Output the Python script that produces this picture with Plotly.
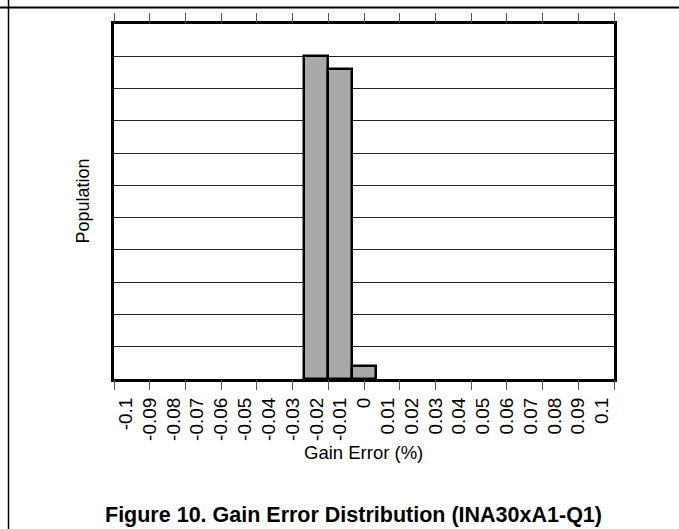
import plotly.graph_objects as go

# Histogram of gain error (bin centres in %, relative population)
bin_centres = [-0.02, -0.01, 0.0]
population = [10.0, 9.6, 0.4]
bin_width = 0.01

# Category labels along the x axis
label_values = [round(-0.1 + 0.01 * i, 2) for i in range(21)]
label_text = ["-0.1", "-0.09", "-0.08", "-0.07", "-0.06", "-0.05", "-0.04",
              "-0.03", "-0.02", "-0.01", "0", "0.01", "0.02", "0.03", "0.04",
              "0.05", "0.06", "0.07", "0.08", "0.09", "0.1"]

# Evenly spaced frame tick marks (independent of the labels)
frame_ticks = list(range(15))

W, H = 679, 529
L, R, T, B = 114, 65, 24, 150
PW, PH = W - L - R, H - T - B


def px_x(px):
    return (px - L) / PW


def px_y(py):
    return (H - B - py) / PH


FONT = "Liberation Sans, Arial, sans-serif"

fig = go.Figure()
fig.add_trace(go.Bar(
    x=bin_centres, y=population, width=bin_width,
    marker=dict(color="#a9a9a9", line=dict(color="black", width=2.5)),
    showlegend=False, hoverinfo="skip",
))
# invisible carrier so the frame-tick axis is drawn
fig.add_trace(go.Scatter(
    x=[frame_ticks[0], frame_ticks[-1]], y=[0, 0], xaxis="x2", yaxis="y",
    mode="markers", marker=dict(opacity=0), showlegend=False,
    hoverinfo="skip",
))

fig.update_layout(
    width=W, height=H,
    margin=dict(l=L, r=R, t=T, b=B, autoexpand=False),
    paper_bgcolor="white", plot_bgcolor="white",
    font=dict(family=FONT, color="black"),
    bargap=0,
    xaxis=dict(
        range=[-0.105, 0.105], tickmode="array",
        tickvals=label_values, ticktext=label_text,
        tickangle=-90, ticks="", ticklabelstandoff=8,
        tickfont=dict(size=19, family=FONT, color="black"),
        showline=True, mirror=True, linewidth=3, linecolor="black",
        showgrid=False, zeroline=False, fixedrange=True,
    ),
    xaxis2=dict(
        overlaying="x", anchor="y", side="bottom",
        range=[0, 14], tickmode="array", tickvals=frame_ticks,
        ticks="outside", ticklen=10, tickwidth=1, tickcolor="#555",
        mirror="ticks", showline=False, showticklabels=False,
        showgrid=False, zeroline=False, fixedrange=True,
    ),
    yaxis=dict(
        range=[0, 11], tick0=0, dtick=1, ticks="",
        showticklabels=False, showgrid=True, gridcolor="#222", gridwidth=1,
        showline=True, mirror=True, linewidth=3, linecolor="black",
        zeroline=False, fixedrange=True,
    ),
    annotations=[
        dict(text="Population", x=px_x(82), y=px_y(201.5), xref="paper",
             yref="paper", textangle=-90, showarrow=False,
             xanchor="center", yanchor="middle",
             font=dict(size=18, family=FONT, color="black")),
        dict(text="Gain Error (%)", x=px_x(363), y=px_y(452), xref="paper",
             yref="paper", showarrow=False, xanchor="center", yanchor="middle",
             font=dict(size=18.5, family=FONT, color="black")),
        dict(text="<b>Figure 10. Gain Error Distribution (INA30xA1-Q1)</b>",
             x=px_x(353), y=px_y(529), xref="paper", yref="paper",
             showarrow=False, xanchor="center", yanchor="bottom",
             font=dict(size=21.5, family=FONT, color="black")),
    ],
    shapes=[
        dict(type="line", xref="paper", yref="paper",
             x0=px_x(8.5), x1=px_x(8.5), y0=px_y(0), y1=px_y(H),
             line=dict(color="black", width=1.5)),
        dict(type="line", xref="paper", yref="paper",
             x0=px_x(0), x1=px_x(W), y0=px_y(7.5), y1=px_y(7.5),
             line=dict(color="black", width=2)),
    ],
)

fig.write_html("out.html", config={"displayModeBar": False})
